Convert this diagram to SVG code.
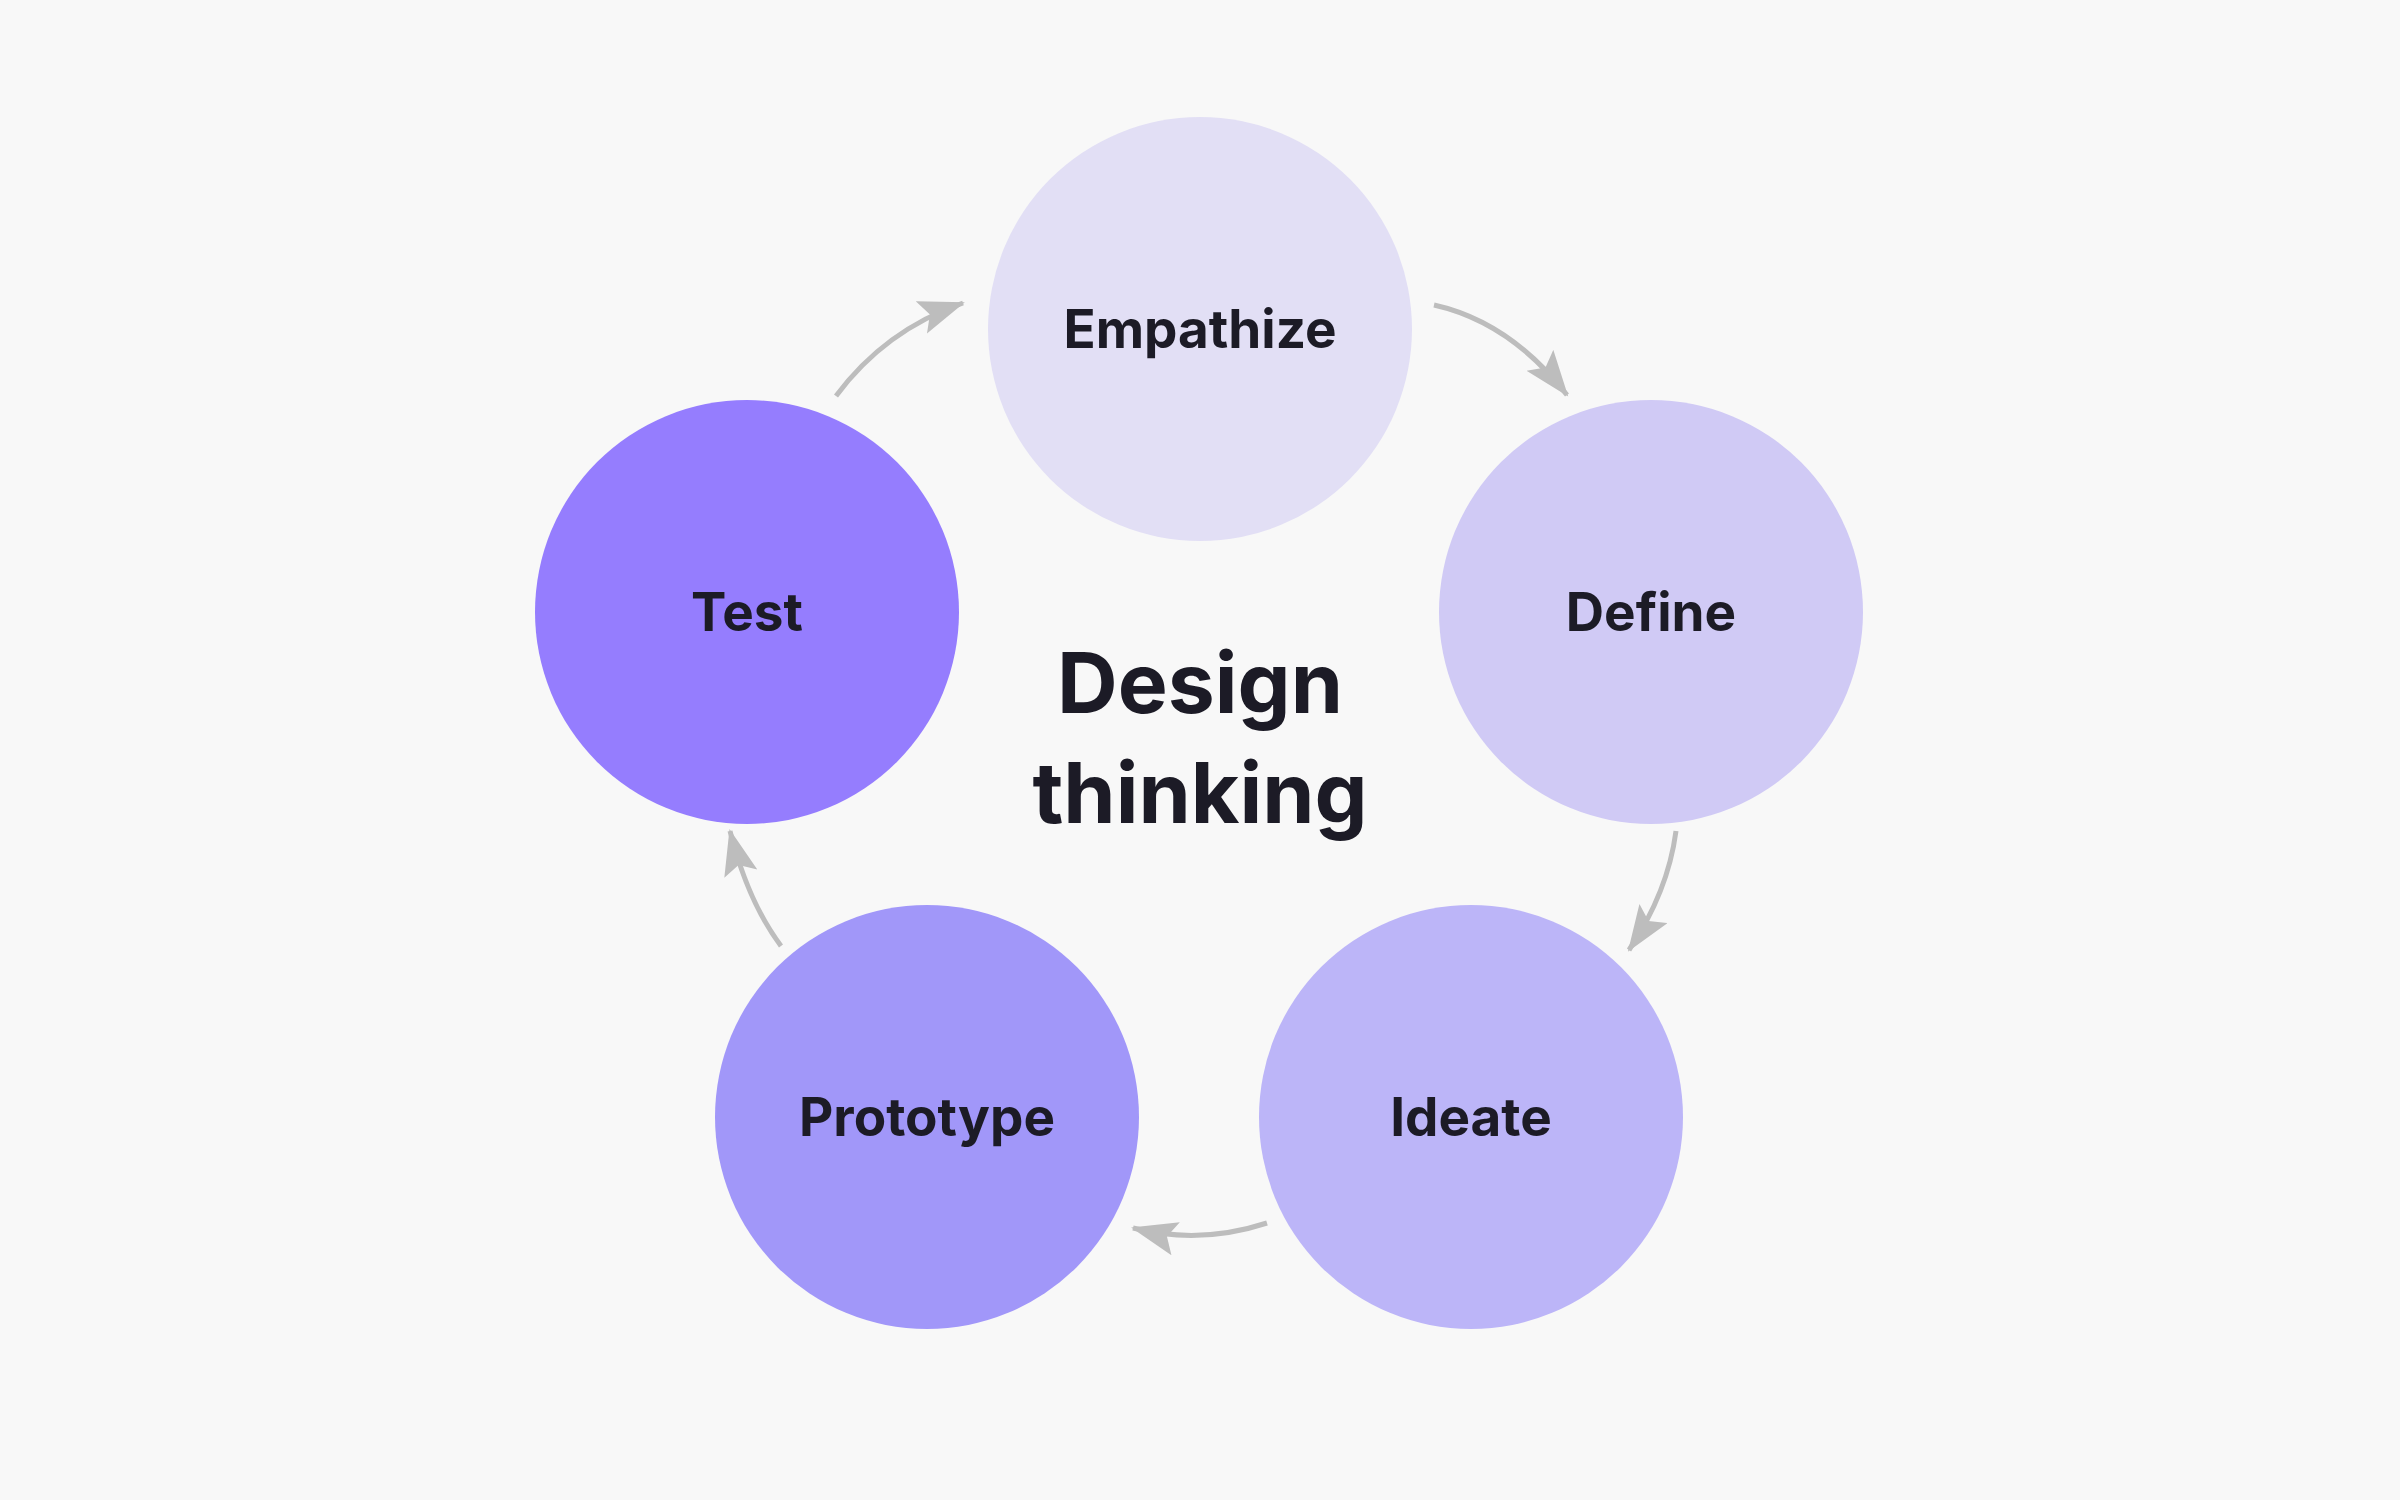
<svg xmlns="http://www.w3.org/2000/svg" width="2400" height="1500" viewBox="0 0 2400 1500">
<style>
.lbl{font-family:Inter,"Liberation Sans",sans-serif;font-weight:700;font-size:53px;fill:#1C1B26;text-anchor:middle;dominant-baseline:central}
.ttl{font-family:Inter,"Liberation Sans",sans-serif;font-weight:700;font-size:84px;fill:#1C1B26;text-anchor:middle}
.arr{fill:none;stroke:#BDBDBD;stroke-width:5;marker-end:url(#ah)}
</style>
<defs>
<marker id="ah" markerUnits="userSpaceOnUse" markerWidth="50" markerHeight="40" refX="44" refY="17" orient="auto">
<path d="M0,0 L46,17 L0,34 L9,17 z" fill="#BDBDBD"/>
</marker>
</defs>
<rect width="2400" height="1500" fill="#F8F8F8"/>
<g id="connectors">
<path class="arr" d="M1434,305 Q1510,322 1567,395"/>
<path class="arr" d="M1676,831 Q1668,892 1629,950"/>
<path class="arr" d="M1267,1223 Q1200,1245 1133,1228"/>
<path class="arr" d="M781,946 Q748,902 730,831"/>
<path class="arr" d="M836,396 Q885,330 963,303"/>
</g>
<g id="empathize"><circle cx="1200" cy="329" r="212" fill="#E2DFF5"/><text class="lbl" x="1200" y="329">Empathize</text></g>
<g id="define"><circle cx="1651" cy="612" r="212" fill="#D0CAF5"/><text class="lbl" x="1651" y="612">Define</text></g>
<g id="ideate"><circle cx="1471" cy="1117" r="212" fill="#BCB5F8"/><text class="lbl" x="1471" y="1117">Ideate</text></g>
<g id="prototype"><circle cx="927" cy="1117" r="212" fill="#A197F9"/><text class="lbl" x="927" y="1117">Prototype</text></g>
<g id="test"><circle cx="747" cy="612" r="212" fill="#957DFE"/><text class="lbl" x="747" y="612">Test</text></g>
<g id="title"><text class="ttl" x="1200" y="713">Design</text><text class="ttl" x="1200" y="823">thinking</text></g>
</svg>
